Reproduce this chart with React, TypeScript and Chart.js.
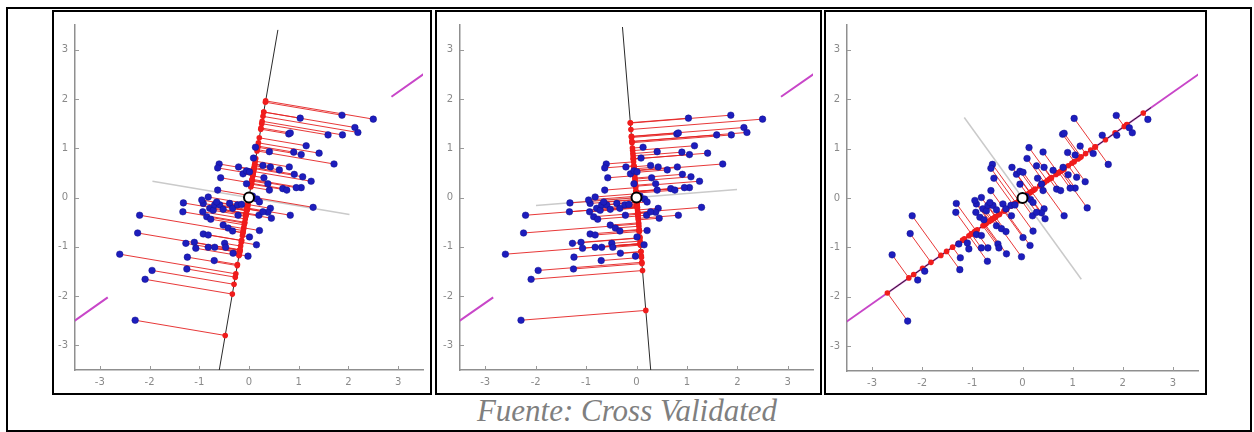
import React, { useEffect, useRef } from "react";
import { Chart, registerables } from "chart.js";

Chart.register(...registerables);

// Sample cloud (x, y), shared by all three panels
const samplePoints: [number, number][] = [
  [1.87, 1.67], [2.5, 1.59], [1.03, 1.61], [2.13, 1.42], [2.19, 1.32],
  [1.88, 1.27], [1.59, 1.27], [0.8, 1.29], [0.83, 1.31], [1.15, 1.05],
  [1.41, 0.9], [0.9, 0.92], [1.05, 0.87], [0.41, 0.93], [0.13, 1.02],
  [0.09, 0.8], [1.71, 0.68], [0.81, 0.62], [0.43, 0.62], [0.61, 0.56],
  [0.91, 0.47], [1.08, 0.42], [1.25, 0.33], [1.05, 0.2], [0.95, 0.2],
  [0.68, 0.18], [0.76, 0.15], [0.41, 0.15], [0.38, 0.28], [1.29, -0.2],
  [0.83, -0.36], [0.43, -0.22], [0.38, -0.3], [0.45, -0.42], [0.2, -0.36],
  [0.28, -0.29], [0.21, -0.67], [0.15, -0.96], [-0.02, -1.19], [0.01, -0.8],
  [0.16, -0.03], [-0.6, 0.68], [-0.63, 0.6], [-0.21, 0.62], [-0.57, 0.4],
  [-0.12, 0.48], [-0.05, 0.54], [0.01, 0.52], [-0.05, 0.28], [-0.63, 0.15],
  [-0.82, 0.01], [-1.32, -0.11], [-1.33, -0.29], [-0.92, -0.12], [-0.93, -0.29],
  [-0.79, -0.22], [-0.72, -0.26], [-0.69, -0.15], [-0.85, -0.39], [-0.77, -0.44],
  [-0.59, -0.15], [-0.39, -0.12], [-0.33, -0.22], [-0.23, -0.15], [-0.52, -0.24],
  [-0.22, -0.36], [-2.2, -0.36], [-2.24, -0.72], [-2.6, -1.15], [-1.95, -1.48],
  [-2.09, -1.66], [-2.29, -2.49], [-1.27, -0.93], [-1.1, -0.91], [-1.07, -1.03],
  [-1.24, -1.21], [-1.25, -1.45], [-0.82, -1.01], [-0.69, -1.01], [-0.49, -0.93],
  [-0.47, -1.01], [-0.7, -1.28], [-0.32, -1.13], [-0.92, -0.74], [-0.82, -0.76],
  [-0.52, -0.56], [-0.42, -0.62], [-0.33, -0.68], [-0.15, -0.14], [0.21, -0.09],
  [0.07, 0.03], [-0.95, -0.05], [-0.65, -0.09], [0.28, 0.65], [0.3, 0.4],
];

// Direction (degrees) of the projection axis in each panel
const projectionAngles = [80.3, 94.6, 35.5];
// Extent of the projection axis, as positions along its direction
const projectionSpans: [number, number][] = [[-3.6, 3.45], [-3.6, 3.47], [-3.3, 3.15]];
// Extent of the orthogonal axis through the origin
const normalSpans: [number, number][] = [[-1.97, 2.05], [-2.0, 2.0], [-2.0, 2.02]];
// First principal direction and its visible stretches in each panel
const principalAngle = 35.5;
const principalSpans: [number, number][][] = [
  [[-4.35, -3.49], [3.52, 4.35]],
  [[-4.35, -3.49], [3.52, 4.35]],
  [[-4.35, 4.35]],
];
const tickValues = [-3, -2, -1, 0, 1, 2, 3];
const axisMin = -3.5;
const axisMax = 3.5;

type Rect = { left: number; top: number; width: number; height: number };
type PanelLayout = { box: Rect; plot: { left: number; top: number; right: number; bottom: number } };

const panelLayouts: PanelLayout[] = [
  { box: { left: 52, top: 10, width: 380, height: 385 }, plot: { left: 75, top: 18, right: 424, bottom: 370 } },
  { box: { left: 435, top: 10, width: 387, height: 385 }, plot: { left: 460, top: 18, right: 813, bottom: 370 } },
  { box: { left: 824, top: 10, width: 383, height: 385 }, plot: { left: 847, top: 18, right: 1201, bottom: 371 } },
];

const BORDER = 2;

const NaNPoint = { x: NaN, y: NaN };

function alongDirection(angleDeg: number, spans: [number, number][]) {
  const a = (angleDeg * Math.PI) / 180;
  const ux = Math.cos(a);
  const uy = Math.sin(a);
  const pts: { x: number; y: number }[] = [];
  spans.forEach(([t0, t1], i) => {
    if (i > 0) pts.push(NaNPoint);
    pts.push({ x: t0 * ux, y: t0 * uy }, { x: t1 * ux, y: t1 * uy });
  });
  return pts;
}

function projections(angleDeg: number) {
  const a = (angleDeg * Math.PI) / 180;
  const ux = Math.cos(a);
  const uy = Math.sin(a);
  return samplePoints.map(([x, y]) => {
    const t = x * ux + y * uy;
    return { x: t * ux, y: t * uy };
  });
}

const innerTicks = {
  id: "innerTicks",
  afterDatasetsDraw(chart: any) {
    const { ctx, chartArea, scales } = chart;
    ctx.save();
    ctx.strokeStyle = "#9a9a9a";
    ctx.lineWidth = 1;
    ctx.beginPath();
    tickValues.forEach((v) => {
      const px = Math.round(scales.x.getPixelForValue(v)) + 0.5;
      ctx.moveTo(px, chartArea.bottom);
      ctx.lineTo(px, chartArea.bottom - 4);
      const py = Math.round(scales.y.getPixelForValue(v)) + 0.5;
      ctx.moveTo(chartArea.left, py);
      ctx.lineTo(chartArea.left + 4, py);
    });
    ctx.stroke();
    ctx.restore();
  },
};

function Panel({ index }: { index: number }) {
  const ref = useRef<HTMLCanvasElement | null>(null);
  const layout = panelLayouts[index];
  const canvasLeft = layout.box.left + BORDER;
  const canvasTop = layout.box.top + BORDER;
  const canvasWidth = layout.box.width - 2 * BORDER;
  const canvasHeight = layout.box.height - 2 * BORDER;

  useEffect(() => {
    if (!ref.current) return;
    const angle = projectionAngles[index];
    const proj = projections(angle);
    const connectors: { x: number; y: number }[] = [];
    samplePoints.forEach(([x, y], i) => {
      connectors.push({ x, y }, proj[i], NaNPoint);
    });

    const lineDefaults = { showLine: true, pointRadius: 0, pointHoverRadius: 0, spanGaps: false, fill: false };

    const xAxisHeight = canvasTop + canvasHeight - layout.plot.bottom;
    const yAxisWidth = layout.plot.left - canvasLeft;

    const axisCommon = {
      type: "linear" as const,
      min: axisMin,
      max: axisMax,
      grid: { display: false, drawTicks: false },
      border: { display: true, color: "#8f8f8f", width: 1.5 },
      afterBuildTicks(scale: any) {
        scale.ticks = tickValues.map((v) => ({ value: v }));
      },
    };

    const chart = new Chart(ref.current, {
      type: "scatter",
      data: {
        datasets: [
          {
            label: "origin",
            data: [{ x: 0, y: 0 }],
            pointRadius: 5,
            pointBackgroundColor: "#ffffff",
            pointBorderColor: "#000000",
            pointBorderWidth: 2,
            order: 0,
          },
          {
            label: "samples",
            data: samplePoints.map(([x, y]) => ({ x, y })),
            pointRadius: 3.3,
            pointBackgroundColor: "#1d1dbd",
            pointBorderColor: "#12128f",
            pointBorderWidth: 0.5,
            order: 1,
          },
          {
            label: "projected",
            data: proj,
            pointRadius: 2.8,
            pointBackgroundColor: "#f01c1c",
            pointBorderColor: "#e01010",
            pointBorderWidth: 0,
            order: 2,
          },
          {
            label: "connectors",
            data: connectors,
            ...lineDefaults,
            borderColor: "rgba(228,34,34,0.9)",
            borderWidth: 1,
            order: 3,
          },
          {
            label: "projection axis",
            data: alongDirection(angle, [projectionSpans[index]]),
            ...lineDefaults,
            borderColor: "#2a2a2a",
            borderWidth: 1,
            order: 4,
          },
          {
            label: "principal axis",
            data: alongDirection(principalAngle, principalSpans[index]),
            ...lineDefaults,
            borderColor: "#c846c8",
            borderWidth: 2,
            order: 5,
          },
          {
            label: "orthogonal axis",
            data: alongDirection(angle - 90, [normalSpans[index]]),
            ...lineDefaults,
            borderColor: "#cacaca",
            borderWidth: 1.5,
            order: 6,
          },
        ],
      },
      options: {
        responsive: false,
        animation: false,
        events: [],
        layout: {
          padding: {
            left: 0,
            bottom: 0,
            top: layout.plot.top - canvasTop,
            right: canvasLeft + canvasWidth - layout.plot.right,
          },
        },
        plugins: { legend: { display: false }, tooltip: { enabled: false } },
        scales: {
          x: {
            ...axisCommon,
            position: "bottom",
            ticks: { padding: 6, color: "#8a8a8a", font: { family: "DejaVu Sans", size: 10 }, maxRotation: 0 },
            afterFit(scale: any) {
              scale.height = xAxisHeight;
            },
          },
          y: {
            ...axisCommon,
            position: "left",
            ticks: { padding: 7, color: "#8a8a8a", font: { family: "DejaVu Sans", size: 10 } },
            afterFit(scale: any) {
              scale.width = yAxisWidth;
            },
          },
        },
      } as any,
      plugins: [innerTicks],
    });
    return () => chart.destroy();
  }, [index]);

  return (
    <div
      style={{
        position: "absolute",
        left: layout.box.left,
        top: layout.box.top,
        width: layout.box.width,
        height: layout.box.height,
        boxSizing: "border-box",
        border: `${BORDER}px solid #000`,
        background: "#fff",
      }}
    >
      <canvas ref={ref} width={canvasWidth} height={canvasHeight} style={{ display: "block" }} />
    </div>
  );
}

export default function App() {
  return (
    <div
      style={{
        position: "absolute",
        left: 0,
        top: 0,
        width: 1254,
        height: 432,
        background: "#fff",
        overflow: "hidden",
      }}
    >
      <div
        style={{
          position: "absolute",
          left: 6,
          top: 7,
          width: 1246,
          height: 425,
          boxSizing: "border-box",
          border: "2px solid #000",
        }}
      />
      <Panel index={0} />
      <Panel index={1} />
      <Panel index={2} />
      <div
        style={{
          position: "absolute",
          left: 0,
          top: 395,
          width: 1254,
          textAlign: "center",
          fontFamily: "'Liberation Serif', 'DejaVu Serif', serif",
          fontStyle: "italic",
          fontSize: 31,
          lineHeight: 1,
          color: "#7f7f7f",
        }}
      >
        Fuente: Cross Validated
      </div>
    </div>
  );
}
